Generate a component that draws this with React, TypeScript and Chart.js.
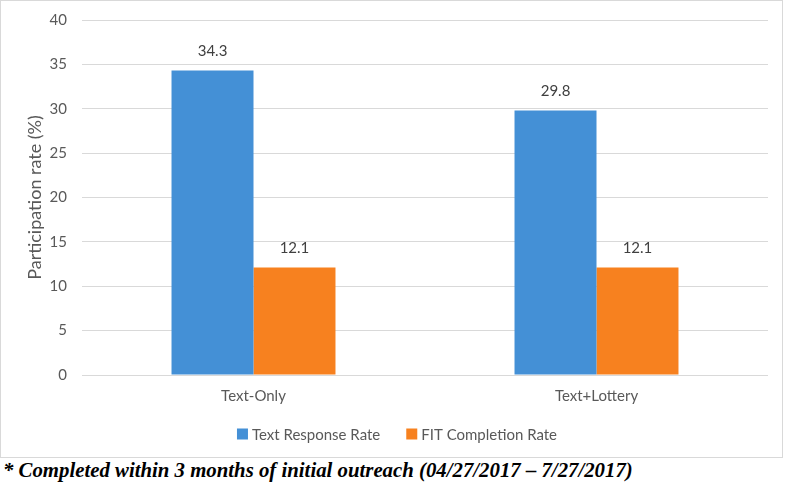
import React, { useEffect, useRef } from "react";
import { Chart, registerables } from "chart.js";

Chart.register(...registerables);

const categories = ["Text-Only", "Text+Lottery"];
const textResponse = [34.3, 29.8];
const fitCompletion = [12.1, 12.1];
const seriesNames = ["Text Response Rate", "FIT Completion Rate"];
const seriesColors = ["#4490d6", "#f7811f"];
const yTitle = "Participation rate (%)";
const footnote = "* Completed within 3 months of initial outreach (04/27/2017 \u2013 7/27/2017)";

const FONT = "Lato, 'Open Sans', sans-serif";

const labelPlugin = {
  id: "barLabels",
  afterDatasetsDraw(chart: any) {
    const ctx = chart.ctx;
    ctx.save();
    ctx.font = `15px ${FONT}`;
    ctx.fillStyle = "#404040";
    ctx.textAlign = "center";
    ctx.textBaseline = "middle";
    chart.data.datasets.forEach((ds: any, i: number) => {
      const meta = chart.getDatasetMeta(i);
      meta.data.forEach((bar: any, j: number) => {
        ctx.fillText(ds.data[j].toFixed(1), bar.x, bar.y - 19);
      });
    });
    ctx.restore();
  },
};

// Bottom legend drawn from the datasets (Excel-like spacing)
const legendPlugin = {
  id: "bottomLegend",
  afterDraw(chart: any) {
    const ctx = chart.ctx;
    const box = 11;
    const gap = 4;
    const spacing = 26;
    const centerX = 396;
    const y = 433;
    ctx.save();
    ctx.font = `15px ${FONT}`;
    ctx.textBaseline = "middle";
    ctx.textAlign = "left";
    const items = chart.data.datasets.map((ds: any) => ({
      text: ds.label,
      color: ds.backgroundColor,
      w: box + gap + ctx.measureText(ds.label).width,
    }));
    const total = items.reduce((s: number, it: any) => s + it.w, 0) + spacing * (items.length - 1);
    let x = centerX - total / 2;
    items.forEach((it: any) => {
      ctx.fillStyle = it.color;
      ctx.fillRect(x, y - box / 2, box, box);
      ctx.fillStyle = "#595959";
      ctx.fillText(it.text, x + box + gap, y + 1);
      x += it.w + spacing;
    });
    ctx.restore();
  },
};

export default function App() {
  const ref = useRef<HTMLCanvasElement>(null);
  useEffect(() => {
    const chart = new Chart(ref.current!, {
      type: "bar",
      data: {
        labels: categories,
        datasets: [
          { label: seriesNames[0], data: textResponse, backgroundColor: seriesColors[0], categoryPercentage: 0.478, barPercentage: 1 },
          { label: seriesNames[1], data: fitCompletion, backgroundColor: seriesColors[1], categoryPercentage: 0.478, barPercentage: 1 },
        ],
      },
      plugins: [labelPlugin, legendPlugin],
      options: {
        animation: false,
        responsive: false,
        layout: { padding: { top: 19, right: 14, bottom: 48, left: 0 } },
        plugins: {
          tooltip: { enabled: false },
          legend: { display: false },
        },
        scales: {
          x: {
            grid: { display: false, drawTicks: false },
            border: { display: false },
            ticks: { color: "#595959", font: { family: FONT, size: 15 }, padding: 12 },
            afterFit(scale: any) {
              scale.height = 34;
            },
          },
          y: {
            min: 0,
            max: 40,
            ticks: { stepSize: 5, color: "#595959", font: { family: FONT, size: 15 }, padding: 15 },
            grid: { color: "#d9d9d9", drawTicks: false },
            border: { display: false },
            title: {
              display: true,
              text: yTitle,
              color: "#595959",
              font: { family: FONT, size: 18 },
              padding: { top: 23, bottom: 0 },
            },
            afterFit(scale: any) {
              scale.width = 81;
              scale.paddingTop = 0;
              scale.paddingBottom = 0;
            },
          },
        },
      } as any,
    });
    return () => chart.destroy();
  }, []);
  return (
    <div style={{ position: "fixed", left: 0, top: 0, width: 788, height: 484, background: "#fff" }}>
      <div
        style={{
          position: "absolute",
          left: 0,
          top: 0,
          width: 781,
          height: 456,
          border: "1px solid #d9d9d9",
        }}
      >
        <canvas ref={ref} width={781} height={456} style={{ display: "block" }} />
      </div>
      <div
        style={{
          position: "absolute",
          left: 3,
          top: 458,
          fontFamily: "'Liberation Serif', 'Times New Roman', serif",
          fontStyle: "italic",
          fontWeight: "bold",
          fontSize: 20.8,
          whiteSpace: "nowrap",
          color: "#000",
        }}
      >
        {footnote}
      </div>
    </div>
  );
}
